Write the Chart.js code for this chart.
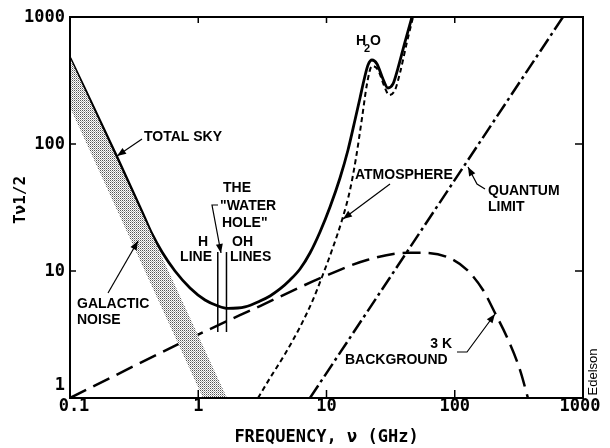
<!DOCTYPE html>
<html><head><meta charset="utf-8">
<script src="https://cdn.jsdelivr.net/npm/chart.js@4/dist/chart.umd.min.js"></script>
<style>html,body{margin:0;padding:0;background:#fff}</style>
</head><body>
<canvas id="c" width="610" height="448" style="width:610px;height:448px;display:block"></canvas>
<script>
// ---- data ----
const xTickValues = [0.1, 1, 10, 100, 1000];
const xTickLabels = ['0.1', '1', '10', '100', '1000'];
const yTickValues = [1, 10, 100, 1000];
const yTickLabels = ['1', '10', '100', '1000'];

const totalSkyX = [0.1, 0.2325, 0.371, 0.436, 0.5217, 0.6587, 0.8624, 1.129, 1.426, 1.706, 2.315, 3.03, 3.627, 4.339, 5.193, 6.215, 7.435, 8.898, 10.65, 12.74, 14.71, 16.68, 18.25, 19.61, 21.07, 22.63, 24.76, 27.57, 30.17, 33.0, 36.1, 40.9, 46.4];
const totalSkyY = [475, 79, 28.1, 19.56, 14.11, 10.0, 7.35, 5.91, 5.30, 5.07, 5.21, 5.80, 6.36, 7.22, 8.49, 10.37, 13.86, 20.3, 31.9, 54.0, 89.7, 154.5, 230.2, 319, 418.8, 458.5, 426.6, 325, 276, 297, 396, 635, 1000];

const atmosX = [2.923, 3.627, 4.747, 6.215, 7.706, 9.224, 11.04, 13.21, 15.25, 16.98, 18.92, 20.69, 22.63, 25.21, 28.58, 30.7, 34.2, 37.4, 42.4, 47.3];
const atmosY = [1, 1.437, 2.221, 3.623, 5.70, 8.97, 14.63, 25.21, 43.4, 77.6, 160.2, 296.9, 411.4, 382.5, 276, 243.1, 266.2, 362.4, 635, 1000];

const bgX = [0.1, 0.91, 3.03, 9.39, 20.7, 42.4, 56.5, 87, 124.6, 166, 206, 255, 323, 372];
const bgY = [1.0, 3.02, 5.3, 8.97, 12.2, 13.9, 13.9, 12.9, 10.2, 7.09, 4.67, 3.02, 1.66, 1];

const quantumX = [7.43, 698];
const quantumY = [1, 1000];

const galUpperX = [0.1, 1.675];
const galUpperY = [475, 1];
const galLowerX = [0.1, 1.09];
const galLowerY = [195, 1];

const hLineX = 1.42, ohLineX = 1.66;
const lineBottomY = 3.31, lineTopY = 14.1;

// ---- helpers ----
const pts = (xs, ys) => xs.map((x, i) => ({x, y: ys[i]}));
const galPolygon = pts(galUpperX, galUpperY).concat(pts(galLowerX, galLowerY).reverse());

function makePattern() {
  const pc = document.createElement('canvas');
  pc.width = 2; pc.height = 2;
  const p = pc.getContext('2d');
  p.fillStyle = '#ffffff'; p.fillRect(0, 0, 2, 2);
  p.fillStyle = '#555555'; p.fillRect(0, 0, 1, 1);
  p.fillStyle = '#aaaaaa'; p.fillRect(1, 1, 1, 1);
  return document.getElementById('c').getContext('2d').createPattern(pc, 'repeat');
}

function arrow(ctx, path) {
  ctx.beginPath();
  ctx.moveTo(path[0][0], path[0][1]);
  for (let i = 1; i < path.length; i++) ctx.lineTo(path[i][0], path[i][1]);
  ctx.stroke();
  const [x1, y1] = path[path.length - 2], [x2, y2] = path[path.length - 1];
  const a = Math.atan2(y2 - y1, x2 - x1), L = 9, W = 3.5;
  const c = Math.cos(a), s = Math.sin(a);
  ctx.beginPath();
  ctx.moveTo(x2, y2);
  ctx.lineTo(x2 - L * c + W * s, y2 - L * s - W * c);
  ctx.lineTo(x2 - L * c - W * s, y2 - L * s + W * c);
  ctx.closePath();
  ctx.fill();
}

const decor = {
  id: 'decor',
  afterDraw(chart) {
    const ctx = chart.ctx, a = chart.chartArea, xs = chart.scales.x, ys = chart.scales.y;
    ctx.save();
    ctx.strokeStyle = '#000'; ctx.fillStyle = '#000';
    // frame
    ctx.lineWidth = 2;
    ctx.strokeRect(a.left, a.top, a.right - a.left, a.bottom - a.top);
    // inward ticks
    ctx.lineWidth = 1.5;
    ctx.beginPath();
    xTickValues.forEach(v => {
      const p = xs.getPixelForValue(v);
      if (p > a.left + 2 && p < a.right - 2) {
        ctx.moveTo(p, a.bottom); ctx.lineTo(p, a.bottom - 8);
        ctx.moveTo(p, a.top); ctx.lineTo(p, a.top + 6);
      }
    });
    yTickValues.forEach(v => {
      const p = ys.getPixelForValue(v);
      if (p > a.top + 2 && p < a.bottom - 2) {
        ctx.moveTo(a.left, p); ctx.lineTo(a.left + 6, p);
        ctx.moveTo(a.right, p); ctx.lineTo(a.right - 8, p);
      }
    });
    ctx.stroke();
    // tick labels
    ctx.font = 'bold 17px "DejaVu Sans Mono"';
    ctx.textAlign = 'center'; ctx.textBaseline = 'top';
    xTickValues.forEach((v, i) => {
      let p = xs.getPixelForValue(v);
      if (i === 0) p += 4;
      if (i === xTickValues.length - 1) p -= 3;
      ctx.fillText(xTickLabels[i], p, a.bottom + 0);
    });
    ctx.textAlign = 'right'; ctx.textBaseline = 'middle';
    yTickValues.forEach((v, i) => {
      let p = ys.getPixelForValue(v);
      if (i === 0) p -= 13;
      ctx.fillText(yTickLabels[i], a.left - 5, p + 1);
    });
    // axis titles
    ctx.textAlign = 'center';
    ctx.fillText('FREQUENCY, \u03bd (GHz)', (a.left + a.right) / 2, 438);
    ctx.save();
    ctx.translate(21, 200); ctx.rotate(-Math.PI / 2);
    ctx.font = 'bold 16px "DejaVu Sans Mono"';
    ctx.fillText('T\u03bd1/2', 0, 0);
    ctx.restore();
    ctx.save();
    ctx.translate(593, 372); ctx.rotate(-Math.PI / 2);
    ctx.font = '13px "Liberation Sans"';
    ctx.fillText('Edelson', 0, 0);
    ctx.restore();

    // annotations
    ctx.font = 'bold 14px "Liberation Sans"';
    ctx.textBaseline = 'middle';
    const T = (s, x, y, al) => { ctx.textAlign = al || 'left'; ctx.fillText(s, x, y); };
    T('TOTAL SKY', 144, 137);
    T('GALACTIC', 77, 304);
    T('NOISE', 77, 320);
    T('THE', 223, 188);
    T('"WATER', 220, 206);
    T('HOLE"', 222, 223);
    T('H', 203, 242, 'center');
    T('LINE', 212, 257, 'right');
    T('OH', 232, 242);
    T('LINES', 230, 257);
    T('ATMOSPHERE', 355, 175);
    T('QUANTUM', 488, 191);
    T('LIMIT', 488, 207);
    T('3 K', 452, 344, 'right');
    T('BACKGROUND', 345, 360);
    T('H', 356, 41);
    T('O', 370, 41);
    ctx.font = 'bold 11px "Liberation Sans"';
    T('2', 364, 49);

    ctx.lineWidth = 1.2;
    arrow(ctx, [[142, 139], [117, 156]]);
    arrow(ctx, [[108, 293], [138, 241]]);
    arrow(ctx, [[218, 205], [212, 205], [221, 253]]);
    arrow(ctx, [[390, 184], [343, 219]]);
    arrow(ctx, [[485, 189], [477, 184], [468, 167]]);
    arrow(ctx, [[457, 352], [467, 352], [495, 314]]);
    ctx.restore();
  }
};

const chart = new Chart(document.getElementById('c'), {
  type: 'line',
  data: {
    datasets: [
      { label: 'Galactic noise', data: galPolygon, borderWidth: 0, borderColor: 'rgba(0,0,0,0)',
        backgroundColor: makePattern(), fill: 'shape', tension: 0 },
      { label: 'H line', data: [{x: hLineX, y: lineBottomY}, {x: hLineX, y: lineTopY}], borderColor: '#000', borderWidth: 1.5, fill: false },
      { label: 'OH lines', data: [{x: ohLineX, y: lineBottomY}, {x: ohLineX, y: lineTopY}], borderColor: '#000', borderWidth: 1.5, fill: false },
      { label: '3 K background', data: pts(bgX, bgY), borderColor: '#000', borderWidth: 2.5, borderDash: [18, 8], fill: false, cubicInterpolationMode: 'monotone' },
      { label: 'Quantum limit', data: pts(quantumX, quantumY), borderColor: '#000', borderWidth: 2.5, borderDash: [15, 4, 3, 4], fill: false },
      { label: 'Atmosphere', data: pts(atmosX, atmosY), borderColor: '#000', borderWidth: 2, borderDash: [5, 3.5], fill: false, cubicInterpolationMode: 'monotone' },
      { label: 'Total sky', data: pts(totalSkyX, totalSkyY), borderColor: '#000', borderWidth: 2.8, fill: false, cubicInterpolationMode: 'monotone' }
    ]
  },
  options: {
    responsive: false,
    devicePixelRatio: 1,
    animation: false,
    layout: { padding: { left: 70, right: 27, top: 17, bottom: 50 } },
    elements: { point: { radius: 0, hoverRadius: 0 } },
    plugins: { legend: { display: false }, tooltip: { enabled: false } },
    scales: {
      x: { type: 'logarithmic', min: 0.1, max: 1000, display: false },
      y: { type: 'logarithmic', min: 1, max: 1000, display: false }
    }
  },
  plugins: [decor]
});
</script>
</body></html>
